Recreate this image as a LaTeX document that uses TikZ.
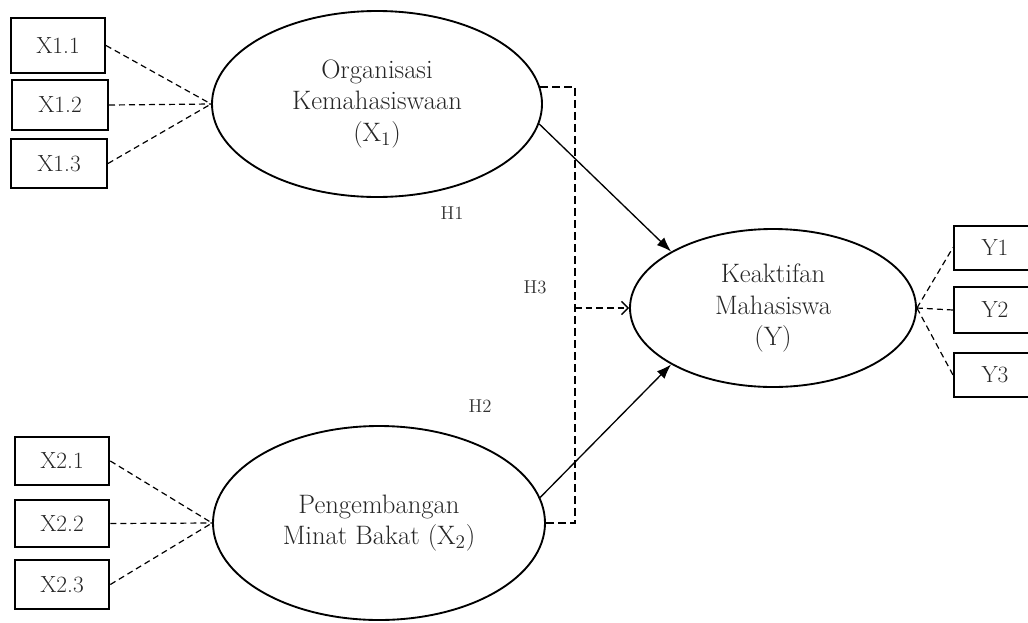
\documentclass[tikz,border=0pt]{standalone}
\usetikzlibrary{arrows.meta,shapes.geometric}
\begin{document}
\begin{tikzpicture}[x=0.75pt,y=-0.75pt,
  lat/.style={ellipse,draw,line width=1.4pt,inner sep=0pt,align=center,
    font=\fontsize{20}{23.6}\selectfont,text=black!85},
  ind/.style={rectangle,draw,line width=1.5pt,inner sep=0pt,
    font=\fontsize{17.5}{20}\selectfont,text=black!85},
  load/.style={line width=0.9pt,dash pattern=on 4.5pt off 3pt},
  rel/.style={line width=1pt,-{Latex[length=11pt,width=8pt]}},
  brk/.style={line width=2pt,dash pattern=on 6pt off 3pt},
  modarrow/.style={line width=1pt,dash pattern=on 5pt off 3pt,-{Straight Barb[length=5pt,width=10pt]}},
  hlab/.style={font=\fontsize{14}{16}\selectfont,text=black!80}]
\clip (0,0) rectangle (1028,622);
\fill[white] (0,0) rectangle (1028,622);

% latent variables
\node[lat,minimum width=247.5pt,minimum height=139.5pt] (X1) at (377,104)
  {Organisasi\\Kemahasiswaan\\(X$_1$)};
\node[lat,minimum width=249pt,minimum height=145.5pt] (X2) at (379,523)
  {Pengembangan\\Minat Bakat (X$_2$)};
\node[lat,minimum width=214.5pt,minimum height=118.5pt] (Y) at (773,308)
  {Keaktifan\\Mahasiswa\\(Y)};

% indicators
\node[ind,minimum width=70.5pt,minimum height=41pt] (x11) at (58,45.5) {X1.1};
\node[ind,minimum width=72pt,minimum height=37pt] (x12) at (60,105) {X1.2};
\node[ind,minimum width=72pt,minimum height=37pt] (x13) at (59,163.5) {X1.3};
\node[ind,minimum width=71pt,minimum height=36pt] (x21) at (62,461) {X2.1};
\node[ind,minimum width=71pt,minimum height=35pt] (x22) at (62,523.5) {X2.2};
\node[ind,minimum width=71pt,minimum height=37pt] (x23) at (62,584.5) {X2.3};
\node[ind,minimum width=61.5pt,minimum height=33pt] (y1) at (995,247.5) {Y1};
\node[ind,minimum width=61.5pt,minimum height=35pt] (y2) at (995,310) {Y2};
\node[ind,minimum width=61.5pt,minimum height=33pt] (y3) at (995,375) {Y3};

% loadings
\draw[load] (x11.east) -- (X1.west);
\draw[load] (x12.east) -- (X1.west);
\draw[load] (x13.east) -- (X1.west);
\draw[load] (x21.east) -- (X2.west);
\draw[load] (x22.east) -- (X2.west);
\draw[load] (x23.east) -- (X2.west);
\draw[load] (Y.east) -- (y1.west);
\draw[load] (Y.east) -- (y2.west);
\draw[load] (Y.east) -- (y3.west);

% structural paths
\draw[rel] (X1.-7) -- (Y.151);
\draw[rel] (X2.9) -- (Y.209);

% moderation bracket (H3)
\coordinate (v) at (575,0);
\draw[brk] (X1.6) -- (X1.6 -| v) |- (X2.east);
\draw[modarrow] (v |- Y.west) -- (Y.west);

% hypothesis labels
\node[hlab] (h1) at (452,213) {H1};
\node[hlab] (h3) at (535,287) {H3};
\node[hlab] (h2) at (480,406) {H2};
\end{tikzpicture}
\end{document}
